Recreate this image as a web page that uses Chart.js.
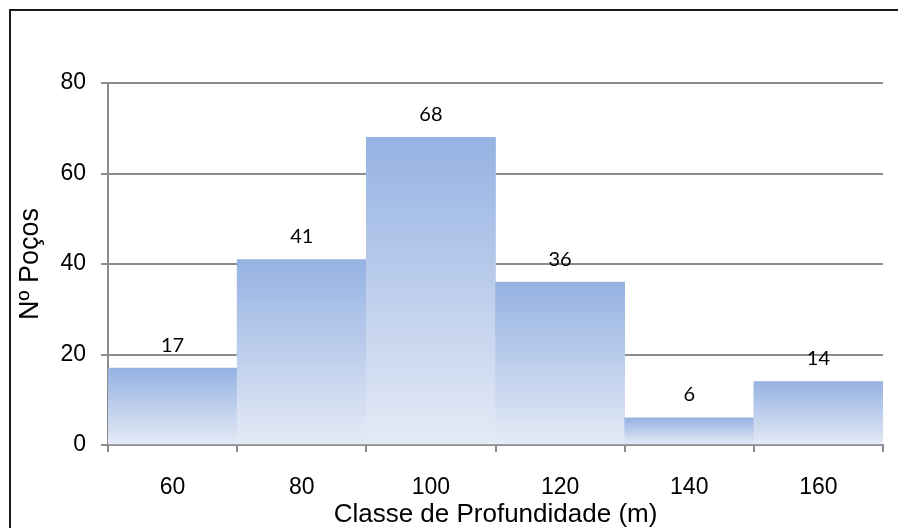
<!DOCTYPE html>
<html>
<head>
<meta charset="utf-8">
<script src="https://cdn.jsdelivr.net/npm/chart.js@4.4.1/dist/chart.umd.min.js"></script>
<style>
  html, body { margin: 0; padding: 0; background: #ffffff; }
  #wrap { position: relative; width: 898px; height: 528px; }
</style>
</head>
<body>
<div id="wrap"><canvas id="chart" width="898" height="528"></canvas></div>
<script>
// Depth classes (m) and number of wells in each class
const classes = ['60', '80', '100', '120', '140', '160'];
const wells = [17, 41, 68, 36, 6, 14];
const yTicks = [0, 20, 40, 60, 80];

const gridGray = '#8c8c8c';
const topBlue = '#95b2e2';
const bottomBlue = '#e5eaf6';

// Vertical gradient spanning each bar from its top down to the baseline
function barGradient(ctx) {
  const chart = ctx.chart;
  const yScale = chart.scales.y;
  if (!chart.chartArea || !yScale || ctx.parsed === undefined) return topBlue;
  const yTop = yScale.getPixelForValue(ctx.parsed.y);
  const yBase = yScale.getPixelForValue(0);
  if (!isFinite(yTop) || !isFinite(yBase) || yTop === yBase) return topBlue;
  const g = chart.ctx.createLinearGradient(0, yTop, 0, yBase);
  g.addColorStop(0, topBlue);
  g.addColorStop(1, bottomBlue);
  return g;
}

// Outer frame of the chart
const framePlugin = {
  id: 'frame',
  afterDraw(chart) {
    const c = chart.ctx;
    c.save();
    c.strokeStyle = '#1a1a1a';
    c.lineWidth = 2;
    c.strokeRect(10, 10, chart.width, chart.height);
    c.restore();
  }
};

// Value written above every bar
const valueLabels = {
  id: 'valueLabels',
  afterDatasetsDraw(chart) {
    const c = chart.ctx;
    const meta = chart.getDatasetMeta(0);
    c.save();
    c.font = '20px Lato, "Open Sans", sans-serif';
    c.fillStyle = '#000000';
    c.textAlign = 'center';
    c.textBaseline = 'middle';
    meta.data.forEach((bar, i) => {
      c.fillText(String(wells[i]), bar.x, bar.y - 23);
    });
    c.restore();
  }
};

new Chart(document.getElementById('chart'), {
  type: 'bar',
  data: {
    labels: classes,
    datasets: [{
      data: wells,
      backgroundColor: barGradient,
      borderWidth: 0,
      categoryPercentage: 1.0,
      barPercentage: 1.0
    }]
  },
  options: {
    responsive: false,
    animation: false,
    events: [],
    layout: { padding: { left: 10, right: 15, top: 83, bottom: 0 } },
    plugins: {
      legend: { display: false },
      tooltip: { enabled: false },
      title: { display: false }
    },
    scales: {
      x: {
        offset: true,
        grid: {
          offset: true,
          drawOnChartArea: false,
          drawTicks: true,
          tickLength: 7,
          color: gridGray,
          lineWidth: 2
        },
        border: { display: true, color: gridGray, width: 2 },
        ticks: {
          color: '#000000',
          font: { family: '"Liberation Sans", Arial, sans-serif', size: 23 },
          padding: 22,
          maxRotation: 0
        },
        title: {
          display: true,
          text: 'Classe de Profundidade (m)',
          color: '#000000',
          font: { family: '"Liberation Sans", Arial, sans-serif', size: 26, lineHeight: 1 },
          padding: { top: 0, bottom: 0 }
        },
        afterFit(scale) { scale.height = 83; }
      },
      y: {
        min: 0,
        max: 80,
        afterBuildTicks(scale) { scale.ticks = yTicks.map(v => ({ value: v })); },
        grid: {
          drawTicks: true,
          tickLength: 7,
          color: gridGray,
          lineWidth: 2
        },
        border: { display: true, color: gridGray, width: 2 },
        ticks: {
          color: '#000000',
          font: { family: '"Liberation Sans", Arial, sans-serif', size: 23 },
          padding: 15
        },
        title: {
          display: true,
          text: 'Nº Poços',
          color: '#000000',
          font: { family: '"Liberation Sans", Arial, sans-serif', size: 27, lineHeight: 1 },
          padding: { top: 7, bottom: 0 }
        },
        afterFit(scale) { scale.width = 98; }
      }
    }
  },
  plugins: [framePlugin, valueLabels]
});
</script>
</body>
</html>
